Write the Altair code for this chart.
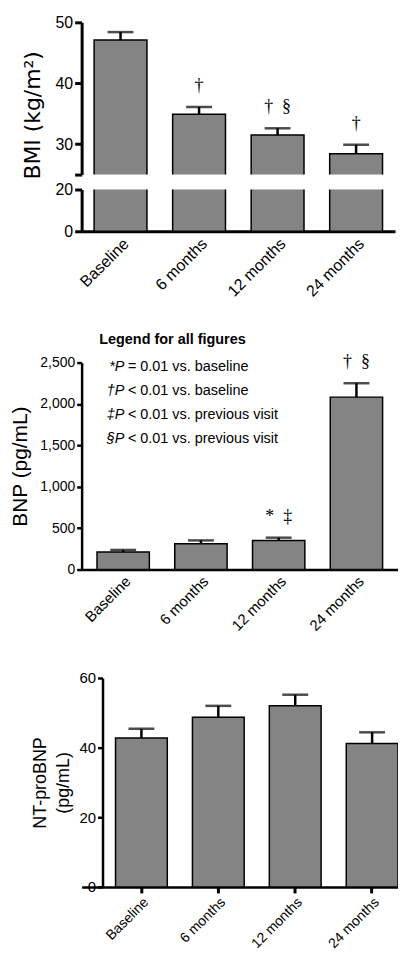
import altair as alt
import pandas as pd

categories = ["Baseline", "6 months", "12 months", "24 months"]

bmi_mean = [47.1, 34.9, 31.5, 28.4]
bmi_sem = [1.3, 1.2, 1.1, 1.5]
bmi_marks = ["", "†", "†\u00a0\u00a0§", "†"]

bnp_mean = [213, 312, 352, 2083]
bnp_sem = [24, 40, 33, 168]
bnp_marks = ["", "", "*\u00a0\u00a0‡", "†\u00a0\u00a0§"]

nt_mean = [42.8, 48.7, 52.0, 41.2]
nt_sem = [2.6, 3.3, 3.2, 3.2]

legend_title = "Legend for all figures"
legend_keys = ["*P", "†P", "‡P", "§P"]
legend_texts = ["= 0.01 vs. baseline", "< 0.01 vs. baseline",
                "< 0.01 vs. previous visit", "< 0.01 vs. previous visit"]

SANS = "Liberation Sans"
SERIF = "Liberation Serif"
FILL = "#848484"


def frame(mean, sem, marks=None):
    df = pd.DataFrame({"cat": categories, "mean": mean, "sem": sem})
    df["upper"] = df["mean"] + df["sem"]
    df["mark"] = marks if marks is not None else [""] * len(categories)
    return df


def x_enc(po, show, label_size=15, ticks=False, dw=3, align=0.5, lp=4):
    scale = alt.Scale(domain=categories, paddingInner=0.327, paddingOuter=po, align=align)
    if show:
        axis = alt.Axis(title=None, labelAngle=-45, labelFont=SANS,
                        labelFontSize=label_size, labelColor="black",
                        ticks=ticks, tickSize=6, tickWidth=3, tickColor="black",
                        domainWidth=dw, domainColor="black", labelPadding=lp)
    else:
        axis = None
    return alt.X("cat:N", scale=scale, axis=axis)


def y_axis(values, title=None, label_size=15, tick_size=6, dw=3, **kw):
    args = dict(values=values, grid=False, labelFont=SANS, labelFontSize=label_size,
                labelColor="black", tickSize=tick_size, tickWidth=dw, tickColor="black",
                domainWidth=dw, domainColor="black", labelPadding=2)
    if title is not None:
        args.update(title=title, titleColor="black", titleFontWeight="normal")
    else:
        args.update(title=None)
    args.update(kw)
    return alt.Axis(**args)


def bar_layers(df, x, y, with_err=True, text_size=18):
    base = alt.Chart(df)
    bars = base.mark_bar(fill=FILL, stroke="black", strokeWidth=1.5, clip=True).encode(x=x, y=y)
    layers = [bars]
    if with_err:
        rule = base.mark_rule(color="black", strokeWidth=2.5).encode(x=x, y="mean:Q", y2="upper:Q")
        cap = base.mark_tick(color="black", thickness=2.5, size=26).encode(x=x, y="upper:Q")
        txt = base.mark_text(font=SERIF, fontSize=text_size, dy=-21, baseline="middle",
                             color="black").encode(x=x, y="upper:Q", text="mark:N")
        layers += [rule, cap, txt]
    return layers


# ---- Top chart (BMI), broken axis ----
bmi_df = frame(bmi_mean, bmi_sem, bmi_marks)
W_TOP = 315
upper_y = alt.Y("mean:Q", scale=alt.Scale(domain=[25, 50], zero=False, nice=False),
                axis=y_axis([25, 30, 40, 50], title="BMI (kg/m²)", label_size=16, tick_size=7,
                            labelExpr="datum.value == 25 ? '' : datum.label",
                            titleFont="DejaVu Sans", titleFontSize=22, titlePadding=11,
                            titleY=93))
upper = alt.layer(*bar_layers(bmi_df, x_enc(0.159, False), upper_y)).properties(
    width=W_TOP, height=153)

lower_y = alt.Y("mean:Q", scale=alt.Scale(domain=[0, 20], nice=False),
                axis=y_axis([0, 20], label_size=16, tick_size=7))
lower = alt.layer(*bar_layers(bmi_df, x_enc(0.159, True, label_size=16), lower_y,
                              with_err=False)).properties(width=W_TOP, height=42)

# ---- Middle chart (BNP) ----
bnp_df = frame(bnp_mean, bnp_sem, bnp_marks)
mid_y = alt.Y("mean:Q", scale=alt.Scale(domain=[0, 2500], nice=False),
              axis=y_axis([0, 500, 1000, 1500, 2000, 2500], title="BNP  (pg/mL)",
                          label_size=14, tick_size=5, dw=2.5, format=",.0f",
                          titleFont=SANS, titleFontSize=21, titlePadding=9))
mid_layers = bar_layers(bnp_df, x_enc(0.198, True, label_size=15, dw=2.5), mid_y)

legend_layers = [
    alt.Chart(pd.DataFrame({"t": [legend_title]})).mark_text(
        align="left", baseline="middle", font=SANS, fontSize=14.5, fontWeight="bold",
        color="black").encode(text="t:N", x=alt.value(17.7), y=alt.value(-23))
]
for i, (k, t) in enumerate(zip(legend_keys, legend_texts)):
    yy = 4.5 + 24.1 * i
    legend_layers.append(
        alt.Chart(pd.DataFrame({"t": [k]})).mark_text(
            align="right", baseline="middle", font=SANS, fontSize=14.5, fontStyle="italic",
            color="black").encode(text="t:N", x=alt.value(43), y=alt.value(yy)))
    legend_layers.append(
        alt.Chart(pd.DataFrame({"t": [t]})).mark_text(
            align="left", baseline="middle", font=SANS, fontSize=14.5,
            color="black").encode(text="t:N", x=alt.value(46.5), y=alt.value(yy)))

middle = alt.layer(*mid_layers, *legend_layers).properties(width=318, height=208)

# ---- Bottom chart (NT-proBNP) ----
nt_df = frame(nt_mean, nt_sem)
bot_y = alt.Y("mean:Q", scale=alt.Scale(domain=[0, 60], nice=False),
              axis=y_axis([0, 20, 40, 60], title=["NT-proBNP", "(pg/mL)"],
                          label_size=15, tick_size=5, dw=2.5, offset=-21,
                          titleFont=SANS, titleFontSize=18, titlePadding=6,
                          titleLineHeight=24))
bottom = alt.layer(*bar_layers(nt_df, x_enc(0.2205, True, label_size=14, ticks=True, dw=2.5,
                                             align=1, lp=2),
                               bot_y, with_err=True)).properties(width=318, height=210)


def spacer(h):
    return alt.Chart(pd.DataFrame({"v": [0]})).mark_point(opacity=0).encode(
        x=alt.value(0), y=alt.value(0)).properties(width=10, height=h)


chart = alt.vconcat(upper, lower, spacer(102), middle, spacer(79), bottom,
                    spacing=15, bounds="flush").configure_view(stroke=None).properties(
    padding={"left": 1, "top": -9, "right": 0, "bottom": 0})

chart.save("out.html", embed_options={"renderer": "svg", "actions": False})
